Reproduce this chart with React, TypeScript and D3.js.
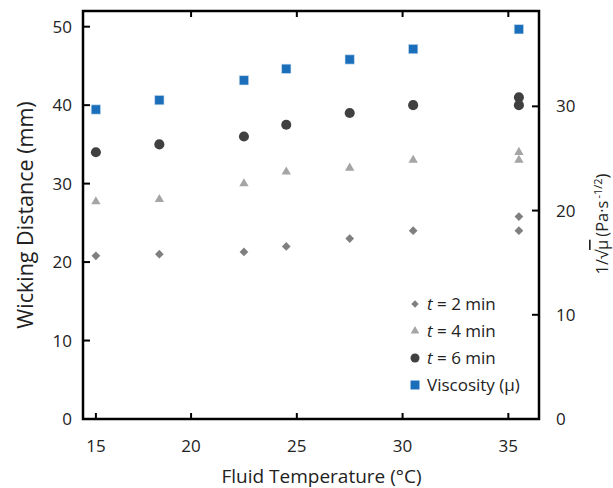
import React from "react";
import * as d3 from "d3";

// Data
const tempsMin = [15.5, 18.5, 22.5, 24.5, 27.5, 30.5, 35.5, 35.5];
const t2min = [20.8, 21.0, 21.3, 22.0, 23.0, 24.0, 24.0, 25.8];
const t4min = [27.7, 28.0, 30.0, 31.5, 32.0, 33.0, 33.0, 34.0];
const t6min = [34.0, 35.0, 36.0, 37.5, 39.0, 40.0, 40.0, 41.0];
const viscTemps = [15.5, 18.5, 22.5, 24.5, 27.5, 30.5, 35.5];
const viscosity = [29.7, 30.6, 32.5, 33.6, 34.5, 35.5, 37.4];

const xTickValues = [15.5, 20, 25, 30, 35];
const xTickLabels = ["15", "20", "25", "30", "35"];
const topTickValues = [20, 25, 30, 35];
const leftTicks = [0, 10, 20, 30, 40, 50];
const rightTicks = [0, 10, 20, 30];

const FONT = "'Open Sans', 'Noto Sans', sans-serif";
const C_DIAMOND = "#7f7f7f";
const C_TRI = "#a5a5a5";
const C_CIRCLE = "#404040";
const C_SQUARE = "#1b6fba";

const L = 83, R = 539, T = 11, B = 419;

export default function App() {
  const x = d3.scaleLinear().domain([14.89, 36.45]).range([L, R]);
  const yL = d3.scaleLinear().domain([0, 52]).range([B, T]);
  const yR = d3.scaleLinear().domain([0, 39.15]).range([B, T]);

  const diamond = d3.symbol(d3.symbolSquare, 38)()!;
  const tri = d3.symbol(d3.symbolTriangle, 38)()!;
  const circ = d3.symbol(d3.symbolCircle, 80)()!;
  const sq = d3.symbol(d3.symbolSquare, 88)()!;

  const lDiamond = d3.symbol(d3.symbolSquare, 27)()!;
  const lTri = d3.symbol(d3.symbolTriangle, 32)()!;
  const lCirc = d3.symbol(d3.symbolCircle, 64)()!;
  const lSq = d3.symbol(d3.symbolSquare, 80)()!;

  const legend = [
    { path: lDiamond, color: C_DIAMOND, rot: 45, italic: "t", rest: " = 2 min" },
    { path: lTri, color: C_TRI, rot: 0, italic: "t", rest: " = 4 min" },
    { path: lCirc, color: C_CIRCLE, rot: 0, italic: "t", rest: " = 6 min" },
    { path: lSq, color: C_SQUARE, rot: 0, italic: "", rest: "Viscosity (\u03bc)" },
  ];

  return (
    <svg
      width={613}
      height={488}
      style={{ position: "absolute", left: 0, top: 0, background: "#fff" }}
      fontFamily={FONT}
    >
      {/* data */}
      {tempsMin.map((t, i) => (
        <path key={"d" + i} d={diamond} fill={C_DIAMOND}
          transform={`translate(${x(t)},${yL(t2min[i])}) rotate(45)`} />
      ))}
      {tempsMin.map((t, i) => (
        <path key={"t" + i} d={tri} fill={C_TRI}
          transform={`translate(${x(t)},${yL(t4min[i])})`} />
      ))}
      {tempsMin.map((t, i) => (
        <path key={"c" + i} d={circ} fill={C_CIRCLE}
          transform={`translate(${x(t)},${yL(t6min[i])})`} />
      ))}
      {viscTemps.map((t, i) => (
        <path key={"s" + i} d={sq} fill={C_SQUARE} stroke="#d6e6f4" strokeWidth={0.6}
          transform={`translate(${x(t)},${yR(viscosity[i])})`} />
      ))}

      {/* frame */}
      <rect x={L} y={T} width={R - L} height={B - T} fill="none" stroke="#000" strokeWidth={2.5} />

      {/* bottom ticks */}
      {xTickValues.map((v, i) => (
        <g key={"xb" + i}>
          <line x1={x(v)} x2={x(v)} y1={B} y2={B - 6} stroke="#000" strokeWidth={2} />
          <text x={x(v)} y={452} textAnchor="middle" fontSize={17} fill="#222">{xTickLabels[i]}</text>
        </g>
      ))}
      {topTickValues.map((v, i) => (
        <line key={"xt" + i} x1={x(v)} x2={x(v)} y1={T} y2={T + 6} stroke="#000" strokeWidth={2} />
      ))}
      {leftTicks.map((v) => (
        <g key={"yl" + v}>
          <line x1={L} x2={L + 7} y1={yL(v)} y2={yL(v)} stroke="#000" strokeWidth={2} />
          <text x={72} y={yL(v) + 6} textAnchor="end" fontSize={17} fill="#222">{v}</text>
        </g>
      ))}
      {rightTicks.map((v) => (
        <g key={"yr" + v}>
          {v > 0 && <line x1={R} x2={R - 7} y1={yR(v)} y2={yR(v)} stroke="#000" strokeWidth={2} />}
          <text x={556} y={yR(v) + 6} textAnchor="start" fontSize={17} fill="#222">{v}</text>
        </g>
      ))}

      {/* axis titles */}
      <text x={321.5} y={483} textAnchor="middle" fontSize={19} fill="#222">Fluid Temperature (°C)</text>
      <text transform={`translate(33,215) rotate(-90)`} textAnchor="middle" fontSize={21.5} fill="#222">
        Wicking Distance (mm)
      </text>
      <text transform={`translate(608,224) rotate(-90)`} textAnchor="middle" fontSize={16.5} fill="#222">
        <tspan>1/√</tspan>
        <tspan textDecoration="overline">μ</tspan>
        <tspan dx={3}>(Pa·s</tspan>
        <tspan fontSize={11} dy={-6} dx={2}>-1/2</tspan>
        <tspan dy={6}>)</tspan>
      </text>

      {/* legend */}
      {legend.map((e, i) => {
        const cy = 304 + i * 27;
        return (
          <g key={"lg" + i}>
            <path d={e.path} fill={e.color} transform={`translate(415,${cy}) rotate(${e.rot})`} />
            <text x={427} y={cy + 6} fontSize={17} fill="#222">
              {e.italic && <tspan fontStyle="italic">{e.italic}</tspan>}
              <tspan>{e.rest}</tspan>
            </text>
          </g>
        );
      })}
    </svg>
  );
}
